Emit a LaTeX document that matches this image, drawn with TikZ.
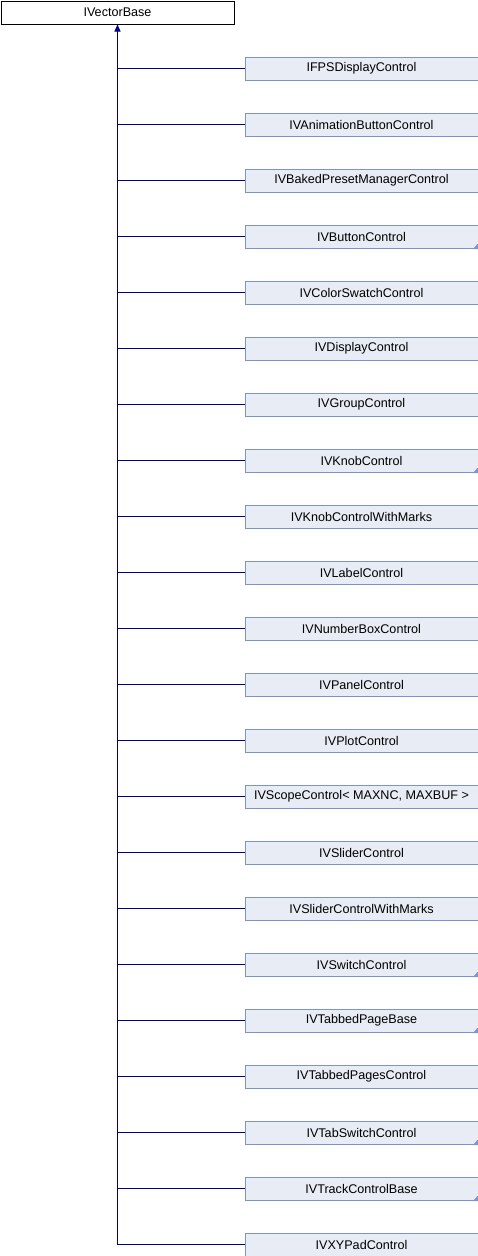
\documentclass[tikz,border=0pt]{standalone}
\usepackage{fontspec}
\setmainfont{Liberation Sans}
\usetikzlibrary{arrows.meta}
\definecolor{boxfill}{RGB}{232,236,245}
\definecolor{boxline}{RGB}{124,148,204}
\definecolor{conn}{RGB}{0,0,128}
\begin{document}
\begin{tikzpicture}[x=1pt,y=-1pt,
  cls/.style={draw=boxline, fill=boxfill, line width=1pt, minimum width=233pt,
    minimum height=23pt, inner sep=0pt, font=\fontsize{12.6}{14}\selectfont, anchor=north west},
  basecls/.style={cls, draw=black, fill=white},
  edge/.style={draw=conn, line width=1pt},
  moretri/.style={fill=boxline}]
\useasboundingbox (0,0) rectangle (478,1256);
\node[basecls] (base) at (0.5,0.5) {IVectorBase};
\foreach [count=\i from 0] \name/\more in {
  IFPSDisplayControl/0,
  IVAnimationButtonControl/0,
  IVBakedPresetManagerControl/0,
  IVButtonControl/1,
  IVColorSwatchControl/0,
  IVDisplayControl/0,
  IVGroupControl/0,
  IVKnobControl/1,
  IVKnobControlWithMarks/0,
  IVLabelControl/0,
  IVNumberBoxControl/0,
  IVPanelControl/0,
  IVPlotControl/0,
  {IVScopeControl< MAXNC, MAXBUF >}/0,
  IVSliderControl/0,
  IVSliderControlWithMarks/0,
  IVSwitchControl/1,
  IVTabbedPageBase/1,
  IVTabbedPagesControl/0,
  IVTabSwitchControl/1,
  IVTrackControlBase/1,
  IVXYPadControl/0} {
  \node[cls] (c\i) at (244.5, 56.5+56*\i) {\name};
  \draw[edge] (c\i.west) -- (c\i.west -| base.south);
  \ifnum\more=1
    \fill[moretri] ([xshift=0.5pt,yshift=6pt]c\i.south east) -- ([xshift=0.5pt,yshift=-0.5pt]c\i.south east)
      -- ([xshift=-5.5pt,yshift=-0.5pt]c\i.south east) -- cycle;
  \fi
}
\draw[edge, {Triangle[width=6pt,length=7pt]}-] (base.south) -- (c21.west -| base.south);
\end{tikzpicture}
\end{document}
